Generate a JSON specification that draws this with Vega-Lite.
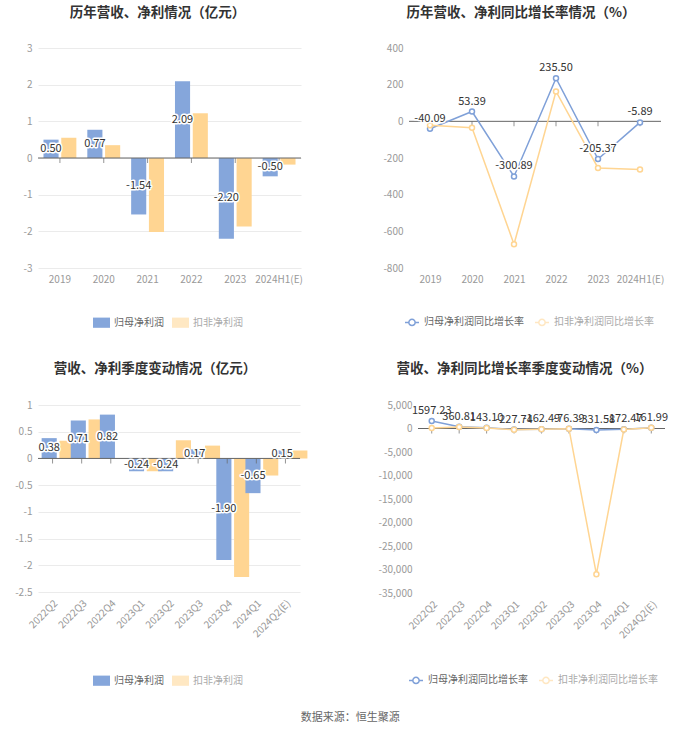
{
  "$schema": "https://vega.github.io/schema/vega-lite/v6.json",
  "background": "white",
  "padding": {"left": 14, "top": 5, "right": 5, "bottom": 5},
  "datasets": {
    "annual": [
      {"p": "2019", "s": "归母净利润", "v": 0.50},
      {"p": "2019", "s": "扣非净利润", "v": 0.55},
      {"p": "2020", "s": "归母净利润", "v": 0.77},
      {"p": "2020", "s": "扣非净利润", "v": 0.35},
      {"p": "2021", "s": "归母净利润", "v": -1.54},
      {"p": "2021", "s": "扣非净利润", "v": -2.02},
      {"p": "2022", "s": "归母净利润", "v": 2.09},
      {"p": "2022", "s": "扣非净利润", "v": 1.22},
      {"p": "2023", "s": "归母净利润", "v": -2.20},
      {"p": "2023", "s": "扣非净利润", "v": -1.87},
      {"p": "2024H1(E)", "s": "归母净利润", "v": -0.50},
      {"p": "2024H1(E)", "s": "扣非净利润", "v": -0.18}
    ],
    "annualGrowth": [
      {"p": "2019", "s": "归母净利润同比增长率", "v": -40.09},
      {"p": "2020", "s": "归母净利润同比增长率", "v": 53.39},
      {"p": "2021", "s": "归母净利润同比增长率", "v": -300.89},
      {"p": "2022", "s": "归母净利润同比增长率", "v": 235.50},
      {"p": "2023", "s": "归母净利润同比增长率", "v": -205.37},
      {"p": "2024H1(E)", "s": "归母净利润同比增长率", "v": -5.89},
      {"p": "2019", "s": "扣非净利润同比增长率", "v": -22},
      {"p": "2020", "s": "扣非净利润同比增长率", "v": -35},
      {"p": "2021", "s": "扣非净利润同比增长率", "v": -670},
      {"p": "2022", "s": "扣非净利润同比增长率", "v": 163},
      {"p": "2023", "s": "扣非净利润同比增长率", "v": -254},
      {"p": "2024H1(E)", "s": "扣非净利润同比增长率", "v": -263}
    ],
    "quarterly": [
      {"p": "2022Q2", "s": "归母净利润", "v": 0.38},
      {"p": "2022Q2", "s": "扣非净利润", "v": 0.33},
      {"p": "2022Q3", "s": "归母净利润", "v": 0.71},
      {"p": "2022Q3", "s": "扣非净利润", "v": 0.73},
      {"p": "2022Q4", "s": "归母净利润", "v": 0.82},
      {"p": "2022Q4", "s": "扣非净利润", "v": 0.0},
      {"p": "2023Q1", "s": "归母净利润", "v": -0.24},
      {"p": "2023Q1", "s": "扣非净利润", "v": -0.24},
      {"p": "2023Q2", "s": "归母净利润", "v": -0.24},
      {"p": "2023Q2", "s": "扣非净利润", "v": 0.34},
      {"p": "2023Q3", "s": "归母净利润", "v": 0.17},
      {"p": "2023Q3", "s": "扣非净利润", "v": 0.24},
      {"p": "2023Q4", "s": "归母净利润", "v": -1.90},
      {"p": "2023Q4", "s": "扣非净利润", "v": -2.22},
      {"p": "2024Q1", "s": "归母净利润", "v": -0.65},
      {"p": "2024Q1", "s": "扣非净利润", "v": -0.32},
      {"p": "2024Q2(E)", "s": "归母净利润", "v": 0.15},
      {"p": "2024Q2(E)", "s": "扣非净利润", "v": 0.15}
    ],
    "quarterlyGrowth": [
      {"p": "2022Q2", "s": "归母净利润同比增长率", "v": 1597.23},
      {"p": "2022Q3", "s": "归母净利润同比增长率", "v": 360.81},
      {"p": "2022Q4", "s": "归母净利润同比增长率", "v": 143.10},
      {"p": "2023Q1", "s": "归母净利润同比增长率", "v": -227.74},
      {"p": "2023Q2", "s": "归母净利润同比增长率", "v": -162.49},
      {"p": "2023Q3", "s": "归母净利润同比增长率", "v": -76.39},
      {"p": "2023Q4", "s": "归母净利润同比增长率", "v": -331.58},
      {"p": "2024Q1", "s": "归母净利润同比增长率", "v": -172.47},
      {"p": "2024Q2(E)", "s": "归母净利润同比增长率", "v": 161.99},
      {"p": "2022Q2", "s": "扣非净利润同比增长率", "v": 120},
      {"p": "2022Q3", "s": "扣非净利润同比增长率", "v": 300},
      {"p": "2022Q4", "s": "扣非净利润同比增长率", "v": 80},
      {"p": "2023Q1", "s": "扣非净利润同比增长率", "v": -250},
      {"p": "2023Q2", "s": "扣非净利润同比增长率", "v": -150},
      {"p": "2023Q3", "s": "扣非净利润同比增长率", "v": -50},
      {"p": "2023Q4", "s": "扣非净利润同比增长率", "v": -31000},
      {"p": "2024Q1", "s": "扣非净利润同比增长率", "v": -230},
      {"p": "2024Q2(E)", "s": "扣非净利润同比增长率", "v": 150}
    ]
  },
  "title": {"text": "数据来源：恒生聚源", "orient": "bottom", "anchor": "middle", "frame": "bounds", "fontSize": 11, "fontWeight": "normal", "color": "#666", "offset": 25, "dx": 9},
  "spacing": 32,
  "align": "none",
  "resolve": {"scale": {"color": "independent"}, "legend": {"color": "independent"}},
  "vconcat": [
    {
      "spacing": 79,
      "resolve": {"scale": {"color": "independent"}, "legend": {"color": "independent"}},
      "hconcat": [
        {
          "width": 263, "height": 220,
          "title": {"text": "历年营收、净利情况（亿元）", "dx": -12, "offset": 24},
          "data": {"name": "annual"},
          "resolve": {"scale": {"y": "independent"}},
          "layer": [
            {
              "mark": {"type": "bar"},
              "encoding": {
                "x": {"field": "p", "type": "nominal", "sort": null, "title": null, "scale": {"paddingInner": 0.25, "paddingOuter": 0.125}, "axis": {"labelAngle": 0}},
                "xOffset": {"field": "s", "type": "nominal", "sort": null, "scale": {"domain": ["归母净利润", "扣非净利润"], "paddingInner": 0.15}},
                "y": {"field": "v", "type": "quantitative", "title": null, "scale": {"domain": [-3, 3], "nice": false}, "axis": {"values": [-3, -2, -1, 0, 1, 2, 3], "format": "~g", "labelExpr": "replace(datum.label, '\u2212', '-')"}},
                "color": {"field": "s", "type": "nominal", "sort": null, "scale": {"domain": ["归母净利润", "扣非净利润"], "range": ["#85A6DB", "#FFD592"]},
                  "legend": {"orient": "none", "legendX": 55, "legendY": 266, "direction": "horizontal", "title": null, "symbolType": "M-1,-0.6H1V0.6H-1Z", "symbolSize": 289, "symbolStrokeWidth": 0, "labelFontSize": 10, "columnPadding": 8,
                    "encode": {"labels": {"update": {"fill": {"signal": "datum.value === '扣非净利润' ? '#aaa' : '#666'"}}}, "symbols": {"update": {"opacity": {"signal": "datum.value === '扣非净利润' ? 0.55 : 1"}}}}}}
              }
            },
            {
              "data": {"values": [{}]},
              "mark": {"type": "rule", "color": "#666", "strokeWidth": 1},
              "encoding": {"y": {"datum": 0, "type": "quantitative", "scale": {"domain": [-3, 3], "nice": false}, "axis": null}}
            },
            {
              "transform": [{"filter": "datum.s === '归母净利润'"}],
              "mark": {"type": "tick", "orient": "vertical", "size": 5, "thickness": 1, "color": "#666", "yOffset": 2.5},
              "encoding": {
                "x": {"field": "p", "type": "nominal", "sort": null, "title": null, "axis": {"labelAngle": 0}},
                "y": {"datum": 0, "type": "quantitative", "scale": {"domain": [-3, 3], "nice": false}, "axis": null}
              }
            },
            {
              "transform": [{"filter": "datum.s === '归母净利润'"}],
              "mark": {"type": "text", "fontSize": 11, "fill": "white", "stroke": "white", "strokeWidth": 3, "strokeJoin": "round", "text": {"expr": "replace(format(datum.v, '.2f'), '\u2212', '-')"}},
              "encoding": {
                "x": {"field": "p", "type": "nominal", "sort": null, "title": null, "axis": {"labelAngle": 0}},
                "xOffset": {"field": "s", "type": "nominal", "sort": null},
                "y": {"field": "v", "type": "quantitative", "scale": {"domain": [-6, 6], "nice": false}, "axis": null}
              }
            },
            {
              "transform": [{"filter": "datum.s === '归母净利润'"}],
              "mark": {"type": "text", "fontSize": 11, "fill": "#333", "text": {"expr": "replace(format(datum.v, '.2f'), '\u2212', '-')"}},
              "encoding": {
                "x": {"field": "p", "type": "nominal", "sort": null, "title": null, "axis": {"labelAngle": 0}},
                "xOffset": {"field": "s", "type": "nominal", "sort": null},
                "y": {"field": "v", "type": "quantitative", "scale": {"domain": [-6, 6], "nice": false}, "axis": null}
              }
            }
          ]
        },
        {
          "width": 252, "height": 220,
          "title": {"text": "历年营收、净利同比增长率情况（%）", "dx": -14, "offset": 24},
          "data": {"name": "annualGrowth"},
          "layer": [
            {
              "data": {"values": [{}]},
              "mark": {"type": "rule", "color": "#666", "strokeWidth": 1},
              "encoding": {"y": {"datum": 0, "type": "quantitative", "title": null, "scale": {"domain": [-800, 400], "nice": false}, "axis": {"values": [-800, -600, -400, -200, 0, 200, 400], "labelExpr": "replace(datum.label, '\u2212', '-')"}}}
            },
            {
              "transform": [{"filter": "datum.s === '归母净利润同比增长率'"}],
              "mark": {"type": "tick", "orient": "vertical", "size": 5, "thickness": 1, "color": "#666", "yOffset": 2.5},
              "encoding": {
                "x": {"field": "p", "type": "nominal", "sort": null, "title": null, "axis": {"labelAngle": 0}},
                "y": {"datum": 0, "type": "quantitative", "title": null, "scale": {"domain": [-800, 400], "nice": false}, "axis": {"values": [-800, -600, -400, -200, 0, 200, 400], "labelExpr": "replace(datum.label, '\u2212', '-')"}}
              }
            },
            {
              "mark": {"type": "line", "strokeWidth": 1.5, "point": {"filled": false, "fill": "white", "size": 25, "strokeWidth": 1.5}},
              "encoding": {
                "x": {"field": "p", "type": "nominal", "sort": null, "title": null, "scale": {"type": "point", "padding": 0.5}, "axis": {"labelAngle": 0}},
                "y": {"field": "v", "type": "quantitative", "title": null, "scale": {"domain": [-800, 400], "nice": false}, "axis": {"values": [-800, -600, -400, -200, 0, 200, 400], "labelExpr": "replace(datum.label, '\u2212', '-')"}},
                "color": {"field": "s", "type": "nominal", "sort": null, "scale": {"domain": ["归母净利润同比增长率", "扣非净利润同比增长率"], "range": ["#7FA0D8", "#FFD592"]},
                  "legend": {"orient": "none", "legendX": -5, "legendY": 266, "direction": "horizontal", "title": null, "symbolType": "M-1,0H-0.45M0.45,0H1M-0.45,0A0.45,0.45,0,1,1,0.45,0A0.45,0.45,0,1,1,-0.45,0", "symbolSize": 196, "symbolStrokeWidth": 1.5, "symbolFillColor": "white", "labelFontSize": 10, "columnPadding": 8,
                    "encode": {"labels": {"update": {"fill": {"signal": "datum.value === '扣非净利润同比增长率' ? '#aaa' : '#666'"}}}, "symbols": {"update": {"opacity": {"signal": "datum.value === '扣非净利润同比增长率' ? 0.55 : 1"}}}}}}
              }
            },
            {
              "transform": [{"filter": "datum.s === '归母净利润同比增长率'"}],
              "mark": {"type": "text", "fontSize": 11, "baseline": "bottom", "dy": -5, "fill": "white", "stroke": "white", "strokeWidth": 3, "strokeJoin": "round", "text": {"expr": "replace(format(datum.v, '.2f'), '\u2212', '-')"}},
              "encoding": {
                "x": {"field": "p", "type": "nominal", "sort": null, "title": null, "axis": {"labelAngle": 0}},
                "y": {"field": "v", "type": "quantitative", "title": null, "scale": {"domain": [-800, 400], "nice": false}, "axis": {"values": [-800, -600, -400, -200, 0, 200, 400], "labelExpr": "replace(datum.label, '\u2212', '-')"}}
              }
            },
            {
              "transform": [{"filter": "datum.s === '归母净利润同比增长率'"}],
              "mark": {"type": "text", "fontSize": 11, "baseline": "bottom", "dy": -5, "fill": "#333", "text": {"expr": "replace(format(datum.v, '.2f'), '\u2212', '-')"}},
              "encoding": {
                "x": {"field": "p", "type": "nominal", "sort": null, "title": null, "axis": {"labelAngle": 0}},
                "y": {"field": "v", "type": "quantitative", "title": null, "scale": {"domain": [-800, 400], "nice": false}, "axis": {"values": [-800, -600, -400, -200, 0, 200, 400], "labelExpr": "replace(datum.label, '\u2212', '-')"}}
              }
            }
          ]
        }
      ]
    },
    {
      "spacing": 70,
      "resolve": {"scale": {"color": "independent"}, "legend": {"color": "independent"}},
      "hconcat": [
        {
          "width": 262, "height": 187,
          "title": {"text": "营收、净利季度变动情况（亿元）", "dx": -14, "offset": 25},
          "data": {"name": "quarterly"},
          "resolve": {"scale": {"y": "independent"}},
          "layer": [
            {
              "mark": {"type": "bar"},
              "encoding": {
                "x": {"field": "p", "type": "nominal", "sort": null, "title": null, "scale": {"paddingInner": 0.25, "paddingOuter": 0.125}, "axis": {"labelAngle": -45, "labelAlign": "right", "labelBaseline": "top"}},
                "xOffset": {"field": "s", "type": "nominal", "sort": null, "scale": {"domain": ["归母净利润", "扣非净利润"], "paddingInner": 0.15}},
                "y": {"field": "v", "type": "quantitative", "title": null, "scale": {"domain": [-2.5, 1], "nice": false}, "axis": {"values": [-2.5, -2, -1.5, -1, -0.5, 0, 0.5, 1], "format": "~g", "labelExpr": "replace(datum.label, '\u2212', '-')"}},
                "color": {"field": "s", "type": "nominal", "sort": null, "scale": {"domain": ["归母净利润", "扣非净利润"], "range": ["#85A6DB", "#FFD592"]},
                  "legend": {"orient": "none", "legendX": 55, "legendY": 267, "direction": "horizontal", "title": null, "symbolType": "M-1,-0.6H1V0.6H-1Z", "symbolSize": 289, "symbolStrokeWidth": 0, "labelFontSize": 10, "columnPadding": 8,
                    "encode": {"labels": {"update": {"fill": {"signal": "datum.value === '扣非净利润' ? '#aaa' : '#666'"}}}, "symbols": {"update": {"opacity": {"signal": "datum.value === '扣非净利润' ? 0.55 : 1"}}}}}}
              }
            },
            {
              "data": {"values": [{}]},
              "mark": {"type": "rule", "color": "#666", "strokeWidth": 1},
              "encoding": {"y": {"datum": 0, "type": "quantitative", "scale": {"domain": [-2.5, 1], "nice": false}, "axis": null}}
            },
            {
              "transform": [{"filter": "datum.s === '归母净利润'"}],
              "mark": {"type": "tick", "orient": "vertical", "size": 5, "thickness": 1, "color": "#666", "yOffset": 2.5},
              "encoding": {
                "x": {"field": "p", "type": "nominal", "sort": null, "title": null, "axis": {"labelAngle": -45, "labelAlign": "right", "labelBaseline": "top"}},
                "y": {"datum": 0, "type": "quantitative", "scale": {"domain": [-2.5, 1], "nice": false}, "axis": null}
              }
            },
            {
              "transform": [{"filter": "datum.s === '归母净利润'"}],
              "mark": {"type": "text", "fontSize": 11, "fill": "white", "stroke": "white", "strokeWidth": 3, "strokeJoin": "round", "text": {"expr": "replace(format(datum.v, '.2f'), '\u2212', '-')"}},
              "encoding": {
                "x": {"field": "p", "type": "nominal", "sort": null, "title": null, "axis": {"labelAngle": -45, "labelAlign": "right", "labelBaseline": "top"}},
                "xOffset": {"field": "s", "type": "nominal", "sort": null},
                "y": {"field": "v", "type": "quantitative", "scale": {"domain": [-5, 2], "nice": false}, "axis": null}
              }
            },
            {
              "transform": [{"filter": "datum.s === '归母净利润'"}],
              "mark": {"type": "text", "fontSize": 11, "fill": "#333", "text": {"expr": "replace(format(datum.v, '.2f'), '\u2212', '-')"}},
              "encoding": {
                "x": {"field": "p", "type": "nominal", "sort": null, "title": null, "axis": {"labelAngle": -45, "labelAlign": "right", "labelBaseline": "top"}},
                "xOffset": {"field": "s", "type": "nominal", "sort": null},
                "y": {"field": "v", "type": "quantitative", "scale": {"domain": [-5, 2], "nice": false}, "axis": null}
              }
            }
          ]
        },
        {
          "width": 247, "height": 188,
          "title": {"text": "营收、净利同比增长率季度变动情况（%）", "dx": -17, "offset": 25},
          "data": {"name": "quarterlyGrowth"},
          "layer": [
            {
              "data": {"values": [{}]},
              "mark": {"type": "rule", "color": "#666", "strokeWidth": 1},
              "encoding": {"y": {"datum": 0, "type": "quantitative", "title": null, "scale": {"domain": [-35000, 5000], "nice": false}, "axis": {"values": [-35000, -30000, -25000, -20000, -15000, -10000, -5000, 0, 5000], "format": ",d", "labelExpr": "replace(datum.label, '\u2212', '-')"}}}
            },
            {
              "transform": [{"filter": "datum.s === '归母净利润同比增长率'"}],
              "mark": {"type": "tick", "orient": "vertical", "size": 5, "thickness": 1, "color": "#666", "yOffset": 2.5},
              "encoding": {
                "x": {"field": "p", "type": "nominal", "sort": null, "title": null, "axis": {"labelAngle": -45, "labelAlign": "right", "labelBaseline": "top"}},
                "y": {"datum": 0, "type": "quantitative", "title": null, "scale": {"domain": [-35000, 5000], "nice": false}, "axis": {"values": [-35000, -30000, -25000, -20000, -15000, -10000, -5000, 0, 5000], "format": ",d", "labelExpr": "replace(datum.label, '\u2212', '-')"}}
              }
            },
            {
              "mark": {"type": "line", "strokeWidth": 1.5, "point": {"filled": false, "fill": "white", "size": 25, "strokeWidth": 1.5}},
              "encoding": {
                "x": {"field": "p", "type": "nominal", "sort": null, "title": null, "scale": {"type": "point", "padding": 0.5}, "axis": {"labelAngle": -45, "labelAlign": "right", "labelBaseline": "top"}},
                "y": {"field": "v", "type": "quantitative", "title": null, "scale": {"domain": [-35000, 5000], "nice": false}, "axis": {"values": [-35000, -30000, -25000, -20000, -15000, -10000, -5000, 0, 5000], "format": ",d", "labelExpr": "replace(datum.label, '\u2212', '-')"}},
                "color": {"field": "s", "type": "nominal", "sort": null, "scale": {"domain": ["归母净利润同比增长率", "扣非净利润同比增长率"], "range": ["#7FA0D8", "#FFD592"]},
                  "legend": {"orient": "none", "legendX": -10, "legendY": 267, "direction": "horizontal", "title": null, "symbolType": "M-1,0H-0.45M0.45,0H1M-0.45,0A0.45,0.45,0,1,1,0.45,0A0.45,0.45,0,1,1,-0.45,0", "symbolSize": 196, "symbolStrokeWidth": 1.5, "symbolFillColor": "white", "labelFontSize": 10, "columnPadding": 8,
                    "encode": {"labels": {"update": {"fill": {"signal": "datum.value === '扣非净利润同比增长率' ? '#aaa' : '#666'"}}}, "symbols": {"update": {"opacity": {"signal": "datum.value === '扣非净利润同比增长率' ? 0.55 : 1"}}}}}}
              }
            },
            {
              "transform": [{"filter": "datum.s === '归母净利润同比增长率'"}],
              "mark": {"type": "text", "fontSize": 11, "baseline": "bottom", "dy": -5, "fill": "white", "stroke": "white", "strokeWidth": 3, "strokeJoin": "round", "text": {"expr": "replace(format(datum.v, '.2f'), '\u2212', '-')"}},
              "encoding": {
                "x": {"field": "p", "type": "nominal", "sort": null, "title": null, "axis": {"labelAngle": -45, "labelAlign": "right", "labelBaseline": "top"}},
                "y": {"field": "v", "type": "quantitative", "title": null, "scale": {"domain": [-35000, 5000], "nice": false}, "axis": {"values": [-35000, -30000, -25000, -20000, -15000, -10000, -5000, 0, 5000], "format": ",d", "labelExpr": "replace(datum.label, '\u2212', '-')"}}
              }
            },
            {
              "transform": [{"filter": "datum.s === '归母净利润同比增长率'"}],
              "mark": {"type": "text", "fontSize": 11, "baseline": "bottom", "dy": -5, "fill": "#333", "text": {"expr": "replace(format(datum.v, '.2f'), '\u2212', '-')"}},
              "encoding": {
                "x": {"field": "p", "type": "nominal", "sort": null, "title": null, "axis": {"labelAngle": -45, "labelAlign": "right", "labelBaseline": "top"}},
                "y": {"field": "v", "type": "quantitative", "title": null, "scale": {"domain": [-35000, 5000], "nice": false}, "axis": {"values": [-35000, -30000, -25000, -20000, -15000, -10000, -5000, 0, 5000], "format": ",d", "labelExpr": "replace(datum.label, '\u2212', '-')"}}
              }
            }
          ]
        }
      ]
    }
  ],
  "config": {
    "font": "Noto Sans CJK SC",
    "view": {"stroke": null},
    "axis": {"labelColor": "#999", "labelFontSize": 10, "labelFont": "Noto Sans CJK SC", "ticks": false, "domain": false, "gridColor": "#ebebeb", "labelPadding": 6, "labelOverlap": false},
    "axisX": {"grid": false},
    "title": {"fontSize": 13.5, "fontWeight": "bold", "color": "#333", "anchor": "middle", "frame": "group", "offset": 22},
    "legend": {"labelFont": "Noto Sans CJK SC"}
  }
}
